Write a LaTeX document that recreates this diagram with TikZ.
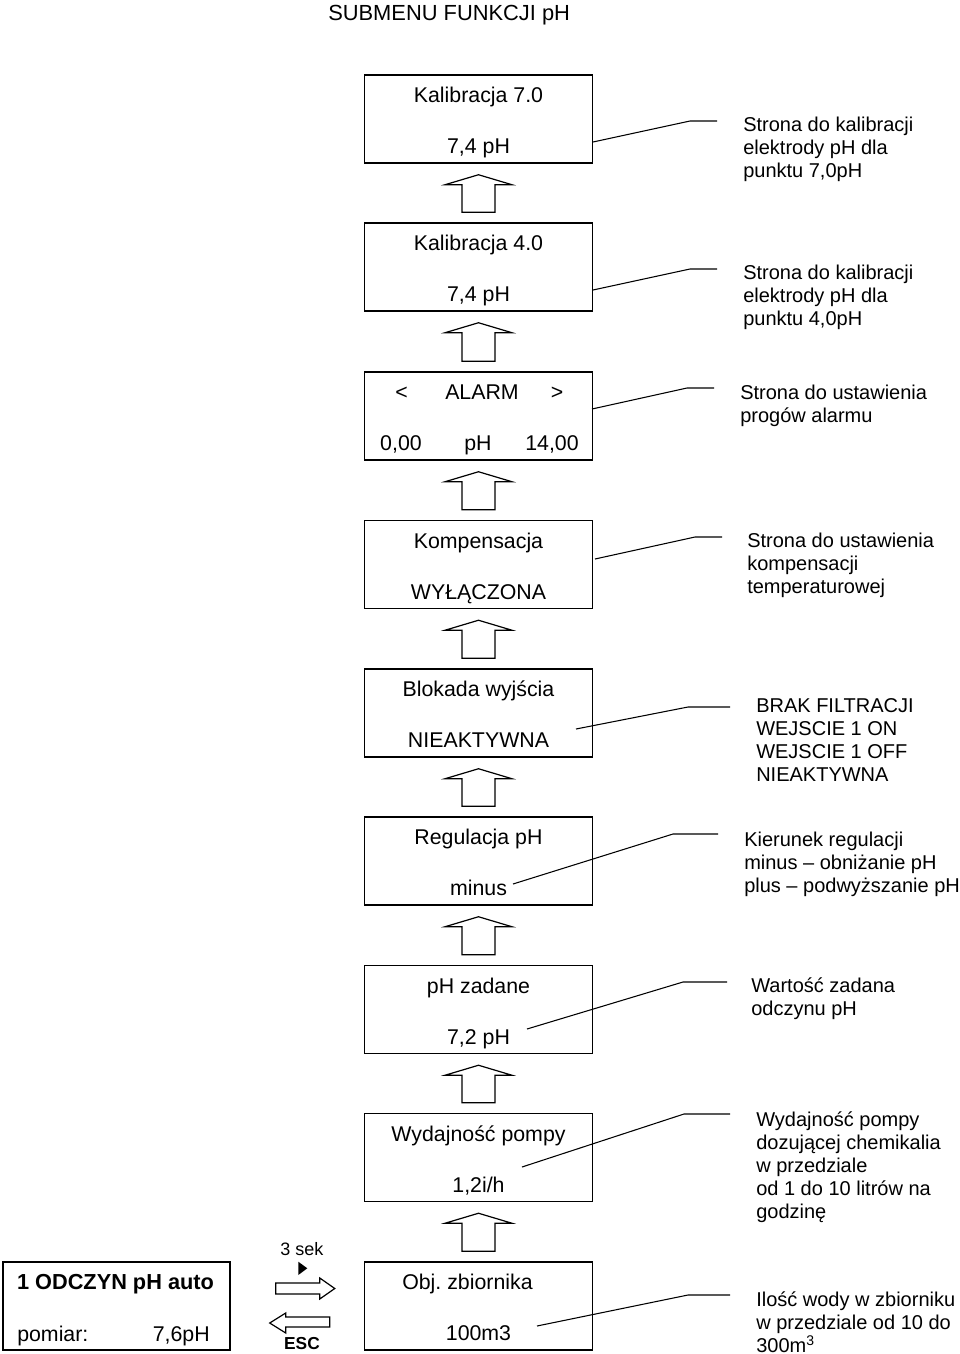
\documentclass[tikz,border=0pt]{standalone}
\usepackage{fontspec}
\setmainfont{Liberation Sans}
\usetikzlibrary{calc}
\frenchspacing
\tikzset{
  box/.style={draw, line width=1.1pt, minimum width=171pt, minimum height=66pt, inner sep=0pt},
  btxt/.style={anchor=base, inner sep=0pt, font=\fontsize{16}{19}\selectfont},
  ctxt/.style={anchor=north west, inner sep=0pt, align=left, font=\fontsize{15}{17.25}\selectfont},
  cline/.style={line width=0.8pt},
  barrow/.style={draw, line width=0.9pt, line join=miter, fill=white},
}
\newcommand\menuBox[4]{%
  \node[box] (#1) at (478.5,#2) {};
  \node[btxt] (#1a) at ($(#1.north)+(0,28.5)$) {#3};
  \node[btxt] (#1b) at ($(#1.north)+(0,79.5)$) {#4};
}
\newcommand\upArr[2]{%
  \draw[barrow] ($(#1.north)+(-16.5,-10)$) -- ($(#2.south)+(-16.5,21)$) -- ($(#2.south)+(-33.5,21)$)
    -- ($(#2.south)+(0,11)$) -- ($(#2.south)+(33.5,21)$) -- ($(#2.south)+(16.5,21)$)
    -- ($(#1.north)+(16.5,-10)$) -- cycle;
}
\begin{document}
\begin{tikzpicture}[x=0.75pt,y=-0.75pt]
\useasboundingbox (0,0) rectangle (960,1354);
\fill[white] (0,0) rectangle (960,1354);

\node[anchor=base west, inner sep=0pt, font=\fontsize{16.4}{20}\selectfont] (title) at (328,20) {SUBMENU FUNKCJI pH};

% menu boxes
\menuBox{b1}{119}{Kalibracja 7.0}{7,4 pH}
\menuBox{b2}{267}{Kalibracja 4.0}{7,4 pH}
\node[box] (b3) at (478.5,416) {};
\node[btxt] (b3l) at ($(b3.north)+(-77,28.5)$) {<};
\node[btxt] (b3a) at ($(b3.north)+(3.5,28.5)$) {ALARM};
\node[btxt] (b3r) at ($(b3.north)+(78.5,28.5)$) {>};
\node[btxt] (b3b) at ($(b3.north)+(-77.5,79.5)$) {0,00};
\node[btxt] (b3c) at ($(b3.north)+(-0.5,79.5)$) {pH};
\node[btxt] (b3d) at ($(b3.north)+(73.5,79.5)$) {14,00};
\menuBox{b4}{564.5}{Kompensacja}{WYŁĄCZONA}
\menuBox{b5}{713}{Blokada wyjścia}{NIEAKTYWNA}
\menuBox{b6}{861}{Regulacja pH}{minus}
\menuBox{b7}{1009.5}{pH zadane}{7,2 pH}
\menuBox{b8}{1157.5}{Wydajność pompy}{1,2i/h}
\node[box] (b9) at (478.5,1306) {};
\node[btxt] (b9a) at ($(b9.north)+(-11,28.5)$) {Obj.\ zbiornika};
\node[btxt] (b9b) at ($(b9.north)+(0,79.5)$) {100m3};

% block arrows between boxes
\upArr{b2}{b1}
\upArr{b3}{b2}
\upArr{b4}{b3}
\upArr{b5}{b4}
\upArr{b6}{b5}
\upArr{b7}{b6}
\upArr{b8}{b7}
\upArr{b9}{b8}

% left box
\node[box, minimum width=170.25pt] (L) at (116.5,1306) {};
\node[btxt, font=\fontsize{16.3}{19}\selectfont\bfseries] (La) at ($(L.north)+(-1,28)$) {1 ODCZYN pH auto};
\node[anchor=base west, inner sep=0pt, font=\fontsize{16}{19}\selectfont] (Lb) at (17,1341) {pomiar:};
\node[anchor=base east, inner sep=0pt, font=\fontsize{16}{19}\selectfont] (Lc) at (210,1341) {7,6pH};

% horizontal arrows
\draw[barrow] ($(L.east)+(45,-23)$) -- ($(b9.west)+(-44,-23)$) -- ($(b9.west)+(-44,-28)$)
  -- ($(b9.west)+(-29,-17.5)$) -- ($(b9.west)+(-44,-7)$) -- ($(b9.west)+(-44,-12)$)
  -- ($(L.east)+(45,-12)$) -- cycle;
\draw[barrow] ($(b9.west)+(-34,11)$) -- ($(L.east)+(55,11)$) -- ($(L.east)+(55,7)$)
  -- ($(L.east)+(39,17)$) -- ($(L.east)+(55,27)$) -- ($(L.east)+(55,21)$)
  -- ($(b9.west)+(-34,21)$) -- cycle;
\node[anchor=base, inner sep=0pt, font=\fontsize{13.5}{16}\selectfont] (sek) at (302,1255) {3 sek};
\fill (298.3,1261.7) -- (298.3,1275) -- (307.3,1268.3) -- cycle;
\node[anchor=base, inner sep=0pt, font=\fontsize{13}{16}\selectfont\bfseries] (esc) at (302,1349) {ESC};

% callouts
\coordinate (s1) at (593,142); \coordinate (k1) at (690,121); \coordinate (e1) at (717,121);
\draw[cline] (s1) -- (k1) -- (e1);
\node[ctxt] (c1) at (743,116.5) {Strona do kalibracji\\elektrody pH dla\\punktu 7,0pH};

\coordinate (s2) at (593,290); \coordinate (k2) at (690,269); \coordinate (e2) at (717,269);
\draw[cline] (s2) -- (k2) -- (e2);
\node[ctxt] (c2) at (743,265) {Strona do kalibracji\\elektrody pH dla\\punktu 4,0pH};

\coordinate (s3) at (592,409); \coordinate (k3) at (687,388); \coordinate (e3) at (714,388);
\draw[cline] (s3) -- (k3) -- (e3);
\node[ctxt] (c3) at (740,385) {Strona do ustawienia\\progów alarmu};

\coordinate (s4) at (595,559); \coordinate (k4) at (695,537); \coordinate (e4) at (722,537);
\draw[cline] (s4) -- (k4) -- (e4);
\node[ctxt] (c4) at (747,532.5) {Strona do ustawienia\\kompensacji\\temperaturowej};

\coordinate (s5) at (576,729); \coordinate (k5) at (688,707); \coordinate (e5) at (730,707);
\draw[cline] (s5) -- (k5) -- (e5);
\node[ctxt] (c5) at (756,698) {BRAK FILTRACJI\\WEJSCIE 1 ON\\WEJSCIE 1 OFF\\NIEAKTYWNA};

\coordinate (s6) at (513,884); \coordinate (k6) at (673,834); \coordinate (e6) at (718,834);
\draw[cline] (s6) -- (k6) -- (e6);
\node[ctxt] (c6) at (744,831.5) {Kierunek regulacji\\minus – obniżanie pH\\plus – podwyższanie pH};

\coordinate (s7) at (527,1029); \coordinate (k7) at (683,982); \coordinate (e7) at (727,982);
\draw[cline] (s7) -- (k7) -- (e7);
\node[ctxt] (c7) at (751,977.5) {Wartość zadana\\odczynu pH};

\coordinate (s8) at (522,1167); \coordinate (k8) at (684,1114); \coordinate (e8) at (730,1114);
\draw[cline] (s8) -- (k8) -- (e8);
\node[ctxt] (c8) at (756,1111.5) {Wydajność pompy\\dozującej chemikalia\\w przedziale\\od 1 do 10 litrów na\\godzinę};

\coordinate (s9) at (537,1326); \coordinate (k9) at (688,1295); \coordinate (e9) at (730,1295);
\draw[cline] (s9) -- (k9) -- (e9);
\node[ctxt] (c9) at (756,1291.5) {Ilość wody w zbiorniku\\w przedziale od 10 do\\300m\textsuperscript{3}};
\end{tikzpicture}
\end{document}
